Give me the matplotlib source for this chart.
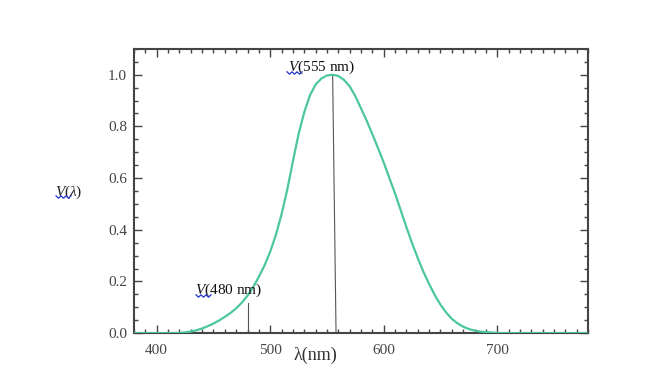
import matplotlib.pyplot as plt
from matplotlib.ticker import MultipleLocator

# Photopic luminosity curve (5 nm steps)
wavelength = list(range(380, 785, 5))
v_lambda = [0.0, 0.0, 0.0, 0.0, 0.0, 0.0, 0.0, 0.0,                  # 380-415
            0.001, 0.003, 0.006, 0.011, 0.018, 0.027, 0.037, 0.049,  # 420-455
            0.063, 0.078, 0.096, 0.118, 0.145, 0.178, 0.218, 0.262,  # 460-495
            0.315, 0.38, 0.46, 0.555, 0.665, 0.77, 0.855, 0.92,      # 500-535
            0.962, 0.985, 0.997, 1.0, 0.995, 0.98, 0.955, 0.917,     # 540-575
            0.87, 0.822, 0.77, 0.716, 0.66, 0.6, 0.54, 0.475,        # 580-615
            0.41, 0.348, 0.29, 0.237, 0.19, 0.147, 0.11, 0.08,       # 620-655
            0.055, 0.038, 0.025, 0.016, 0.01, 0.006, 0.004, 0.002,   # 660-695
            0.001, 0.0, 0.0, 0.0, 0.0, 0.0, 0.0, 0.0,                # 700-735
            0.0, 0.0, 0.0, 0.0, 0.0, 0.0, 0.0, 0.0, 0.0]             # 740-780

# marker lines: (x at top, y at top, x at bottom)
mark_480 = (480, 0.118, 480)
mark_555 = (555, 1.0, 558)

xticks = [400, 500, 600, 700]
yticks = [0.0, 0.2, 0.4, 0.6, 0.8, 1.0]

plt.rcParams['font.family'] = ['Liberation Serif', 'DejaVu Serif']
plt.rcParams['mathtext.fontset'] = 'custom'
plt.rcParams['mathtext.it'] = 'Liberation Serif:italic'
plt.rcParams['mathtext.rm'] = 'Liberation Serif'

fig = plt.figure(figsize=(6.6, 3.76), dpi=100)
ax = fig.add_axes([0.203, 0.114, 0.688, 0.756])

ax.plot(wavelength, v_lambda, color='#4cc79c', linewidth=1.6, zorder=3)
ax.plot([mark_480[0], mark_480[2]], [mark_480[1], 0], color='#555555', linewidth=0.8)
ax.plot([mark_555[0], mark_555[2]], [mark_555[1], 0], color='#555555', linewidth=0.8)

ax.set_xlim(380, 780)
ax.set_ylim(0, 1.1)
ax.set_xticks(xticks)
ax.set_yticks(yticks)
ax.set_yticklabels([f"{v:.1f}" for v in yticks])
ax.xaxis.set_minor_locator(MultipleLocator(10))
ax.yaxis.set_minor_locator(MultipleLocator(0.05))

ax.tick_params(which='both', direction='in', top=True, right=True,
               colors='#444444', labelcolor='#444444', labelsize=11)
ax.tick_params(which='major', length=6, width=1.0, pad=5)
ax.tick_params(axis='x', which='major', pad=8)
ax.tick_params(which='minor', length=3, width=1.0)
for s in ax.spines.values():
    s.set_color('#444444')
    s.set_linewidth(1.5)

ax.text(0.40, -0.077, "λ(nm)", transform=ax.transAxes, ha='center', va='center',
        fontsize=13, color='#333333')

ax.text(-0.174, 0.496, "$\\mathit{V}$($\\mathit{\\lambda}$)", transform=ax.transAxes,
        ha='left', va='center', fontsize=11, color='#222222')

ax.text(515.5, 1.03, "$\\mathit{V}$(555 nm)", ha='left', va='center', fontsize=11, color='#111111')
ax.text(434.0, 0.167, "$\\mathit{V}$(480 nm)", ha='left', va='center', fontsize=11, color='#111111')

# blue spell-check squiggles under the V's
def squiggle(x0, y0, width=15):
    xs = [x0 + i * width / 6 for i in range(7)]
    ys = [y0 + (1.2 if i % 2 else -1.2) for i in range(7)]
    fig.lines.append(plt.Line2D([x / 660 for x in xs], [1 - y / 376 for y in ys],
                                transform=fig.transFigure, color='#2233cc', linewidth=0.9))

squiggle(56, 197)
squiggle(287, 73)
squiggle(196, 296)

fig.savefig("out.png", dpi=100)
